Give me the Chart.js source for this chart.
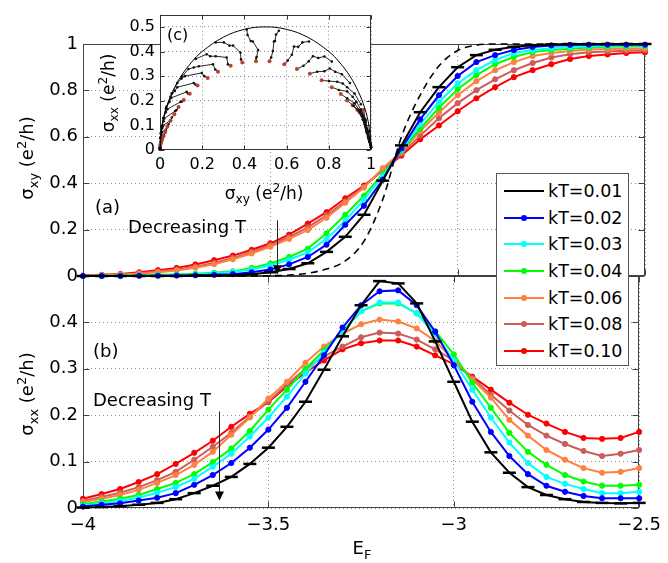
<!DOCTYPE html>
<html>
<head>
<meta charset="utf-8">
<script src="https://cdn.jsdelivr.net/npm/chart.js@4.4.1/dist/chart.umd.min.js"></script>
<style>
  html, body { margin: 0; padding: 0; background: #fff; }
  #wrap { position: relative; width: 668px; height: 563px; overflow: hidden; font-family: "DejaVu Sans", sans-serif; color: #000; }
  #wrap canvas { position: absolute; left: 0; top: 0; }
  .txt { position: absolute; white-space: nowrap; font-size: 18px; line-height: 1; }
  .rot { transform: translate(-50%, -50%) rotate(-90deg); }
  .ctr { transform: translate(-50%, -50%); }
  .mid { transform: translateY(-50%); }
  sub, sup { font-size: 0.72em; line-height: 0; }
  #legend { position: absolute; left: 496px; top: 173px; width: 133px; height: 193px; background: #fff;
            border: 1px solid #555; box-sizing: border-box; padding-top: 4px; }
  #legend .row { height: 26.6px; display: flex; align-items: center; font-size: 17.5px; }
  #legend svg { margin-left: 7px; margin-right: 4px; }
</style>
</head>
<body>
<div id="wrap">
  <canvas id="bottomChart" width="668" height="563"></canvas>
  <canvas id="topChart" width="668" height="563"></canvas>
  <canvas id="insetChart" width="668" height="563"></canvas>
  <div id="legend"></div>

  <div class="txt rot" style="left:27px; top:158px;">σ<sub>xy</sub> (e<sup>2</sup>/h)</div>
  <div class="txt rot" style="left:27px; top:394px;">σ<sub>xx</sub> (e<sup>2</sup>/h)</div>
  <div class="txt ctr" style="left:362px; top:548px;">E<sub>F</sub></div>
  <div class="txt mid" style="left:95px; top:207px;">(a)</div>
  <div class="txt mid" style="left:93px; top:351px;">(b)</div>
  <div class="txt mid" style="left:167px; top:35px; font-size:16px;">(c)</div>
  <div class="txt mid" style="left:128px; top:227px;">Decreasing T</div>
  <div class="txt mid" style="left:93px; top:400px;">Decreasing T</div>
  <div class="txt ctr" style="left:264px; top:193px; font-size:17px;">σ<sub>xy</sub> (e<sup>2</sup>/h)</div>
  <div class="txt rot" style="left:108px; top:93px; font-size:17px;">σ<sub>xx</sub> (e<sup>2</sup>/h)</div>
</div>

<script>
// Fermi energy grid
const EF = [-4.00, -3.95, -3.90, -3.85, -3.80, -3.75, -3.70, -3.65, -3.60, -3.55, -3.50,
            -3.45, -3.40, -3.35, -3.30, -3.25, -3.20, -3.15, -3.10, -3.05, -3.00,
            -2.95, -2.90, -2.85, -2.80, -2.75, -2.70, -2.65, -2.60, -2.55, -2.50];

const kTLabels = ['kT=0.01', 'kT=0.02', 'kT=0.03', 'kT=0.04', 'kT=0.06', 'kT=0.08', 'kT=0.10'];
const kTColors = ['#000000', '#0000ff', '#00ffff', '#00ff00', '#ff8040', '#cc5c5c', '#ff0000'];
const kTMarker = [false, true, true, true, true, true, true];

// sigma_xy, panel (a)
const sxy001 = [0, 0, 0, 0, 0, 0, 0.001, 0.001, 0.003, 0.008, 0.016, 0.030, 0.055, 0.104, 0.169, 0.264, 0.411, 0.563, 0.706, 0.814, 0.900, 0.952, 0.975, 0.988, 0.995, 0.998, 1, 1, 1, 1, 1];
const sxy002 = [0, 0, 0, 0.001, 0.001, 0.002, 0.003, 0.005, 0.008, 0.016, 0.028, 0.050, 0.082, 0.135, 0.221, 0.303, 0.415, 0.550, 0.675, 0.779, 0.862, 0.922, 0.952, 0.974, 0.987, 0.994, 0.996, 0.997, 0.997, 0.997, 0.997];
const sxy003 = [0, 0, 0.001, 0.002, 0.003, 0.005, 0.007, 0.011, 0.017, 0.028, 0.045, 0.070, 0.102, 0.160, 0.238, 0.329, 0.430, 0.545, 0.655, 0.750, 0.830, 0.887, 0.931, 0.961, 0.974, 0.982, 0.987, 0.990, 0.992, 0.993, 0.993];
const sxy004 = [0, 0.001, 0.002, 0.003, 0.005, 0.007, 0.010, 0.014, 0.020, 0.035, 0.054, 0.082, 0.118, 0.184, 0.264, 0.346, 0.440, 0.540, 0.635, 0.725, 0.805, 0.866, 0.913, 0.944, 0.965, 0.974, 0.980, 0.985, 0.988, 0.989, 0.990];
const sxy006 = [0.001, 0.003, 0.006, 0.010, 0.016, 0.024, 0.036, 0.051, 0.072, 0.097, 0.126, 0.160, 0.198, 0.251, 0.316, 0.381, 0.465, 0.535, 0.625, 0.705, 0.779, 0.840, 0.887, 0.922, 0.948, 0.961, 0.970, 0.976, 0.978, 0.980, 0.981];
const sxy008 = [0.001, 0.004, 0.007, 0.012, 0.019, 0.028, 0.040, 0.056, 0.078, 0.104, 0.133, 0.168, 0.210, 0.262, 0.322, 0.384, 0.458, 0.527, 0.605, 0.680, 0.745, 0.801, 0.848, 0.887, 0.918, 0.942, 0.956, 0.964, 0.968, 0.971, 0.973];
const sxy010 = [0.002, 0.005, 0.009, 0.016, 0.025, 0.035, 0.050, 0.068, 0.088, 0.113, 0.141, 0.178, 0.226, 0.275, 0.335, 0.390, 0.455, 0.519, 0.589, 0.649, 0.710, 0.766, 0.814, 0.857, 0.887, 0.913, 0.935, 0.948, 0.955, 0.961, 0.964];
// dashed zero-temperature curve
const sxyT0 = [0, 0, 0, 0, 0, 0, 0, 0, 0, 0, 0.001, 0.004, 0.012, 0.030, 0.065, 0.150, 0.330, 0.600, 0.780, 0.905, 0.972, 0.995, 1, 1, 1, 1, 1, 1, 1, 1, 1];

// sigma_xx, panel (b)
const sxx001 = [0.001, 0.002, 0.004, 0.007, 0.011, 0.019, 0.032, 0.048, 0.067, 0.095, 0.130, 0.175, 0.229, 0.298, 0.370, 0.437, 0.489, 0.484, 0.441, 0.359, 0.272, 0.186, 0.120, 0.076, 0.045, 0.028, 0.019, 0.013, 0.011, 0.010, 0.011];
const sxx002 = [0.003, 0.007, 0.010, 0.016, 0.022, 0.032, 0.050, 0.071, 0.097, 0.130, 0.169, 0.216, 0.272, 0.329, 0.389, 0.437, 0.467, 0.469, 0.437, 0.380, 0.308, 0.229, 0.164, 0.112, 0.073, 0.048, 0.035, 0.026, 0.021, 0.021, 0.021];
const sxx003 = [0.005, 0.010, 0.015, 0.022, 0.033, 0.045, 0.063, 0.089, 0.117, 0.154, 0.195, 0.240, 0.290, 0.335, 0.381, 0.424, 0.443, 0.443, 0.419, 0.374, 0.318, 0.255, 0.195, 0.141, 0.097, 0.067, 0.052, 0.041, 0.032, 0.032, 0.035];
const sxx004 = [0.008, 0.014, 0.020, 0.028, 0.041, 0.054, 0.073, 0.099, 0.128, 0.166, 0.212, 0.255, 0.300, 0.340, 0.381, 0.424, 0.441, 0.441, 0.420, 0.381, 0.331, 0.270, 0.216, 0.162, 0.121, 0.093, 0.071, 0.057, 0.048, 0.048, 0.050];
const sxx006 = [0.013, 0.020, 0.028, 0.039, 0.054, 0.071, 0.093, 0.121, 0.158, 0.195, 0.236, 0.272, 0.313, 0.348, 0.376, 0.396, 0.406, 0.402, 0.387, 0.360, 0.320, 0.277, 0.238, 0.190, 0.156, 0.125, 0.104, 0.086, 0.076, 0.078, 0.086];
const sxx008 = [0.015, 0.024, 0.033, 0.045, 0.060, 0.078, 0.104, 0.132, 0.162, 0.197, 0.229, 0.266, 0.300, 0.327, 0.348, 0.368, 0.378, 0.376, 0.363, 0.342, 0.318, 0.280, 0.244, 0.210, 0.179, 0.156, 0.138, 0.123, 0.112, 0.117, 0.125];
const sxx010 = [0.020, 0.030, 0.041, 0.056, 0.073, 0.095, 0.119, 0.145, 0.175, 0.203, 0.228, 0.262, 0.292, 0.318, 0.342, 0.355, 0.361, 0.361, 0.348, 0.329, 0.310, 0.283, 0.255, 0.227, 0.201, 0.182, 0.164, 0.151, 0.149, 0.151, 0.164];

const sxyAll = [sxy001, sxy002, sxy003, sxy004, sxy006, sxy008, sxy010];
const sxxAll = [sxx001, sxx002, sxx003, sxx004, sxx006, sxx008, sxx010];

// tick labels
const efTicks = [-4, -3.5, -3, -2.5];
const sxyTicks = [0, 0.2, 0.4, 0.6, 0.8, 1];
const sxxTicks = [0, 0.1, 0.2, 0.3, 0.4];
const insetXTicks = [0, 0.2, 0.4, 0.6, 0.8, 1];
const insetYTicks = [0, 0.1, 0.2, 0.3, 0.4, 0.5];

// outer half circle of the inset
const semiX = [0, 0.01, 0.03, 0.06, 0.1, 0.15, 0.2, 0.3, 0.4, 0.5, 0.6, 0.7, 0.8, 0.85, 0.9, 0.94, 0.97, 0.99, 1];
const semiY = [0, 0.099, 0.171, 0.237, 0.3, 0.357, 0.4, 0.458, 0.49, 0.5, 0.49, 0.458, 0.4, 0.357, 0.3, 0.237, 0.171, 0.099, 0];

Chart.defaults.font.family = '"DejaVu Sans", sans-serif';
Chart.defaults.font.size = 18;
Chart.defaults.color = '#000';

const fmt = v => String(Number(v.toFixed(2))).replace('-', '\u2212');

// axes box with inward ticks, like matlab
const framePlugin = {
  id: 'frame',
  beforeDatasetsDraw(chart, args, o) {
    const { ctx, chartArea: a, scales } = chart;
    const len = o.tick || 6;
    ctx.save();
    ctx.strokeStyle = o.color || '#444';
    ctx.lineWidth = 1;
    const L = Math.round(a.left) + 0.5, R = Math.round(a.right) - 0.5;
    const T = Math.round(a.top) + 0.5, B = Math.round(a.bottom) - 0.5;
    ctx.strokeRect(L, T, R - L, B - T);
    ctx.beginPath();
    scales.x.ticks.forEach(t => {
      const px = Math.round(scales.x.getPixelForValue(t.value)) + 0.5;
      ctx.moveTo(px, B); ctx.lineTo(px, B - len);
      ctx.moveTo(px, T); ctx.lineTo(px, T + len);
    });
    scales.y.ticks.forEach(t => {
      const py = Math.round(scales.y.getPixelForValue(t.value)) + 0.5;
      ctx.moveTo(L, py); ctx.lineTo(L + len, py);
      ctx.moveTo(R, py); ctx.lineTo(R - len, py);
    });
    ctx.stroke();
    ctx.restore();
  }
};

const arrowPlugin = {
  id: 'arrow',
  afterDatasetsDraw(chart, args, o) {
    if (!o || o.x === undefined) return;
    const { ctx, scales } = chart;
    const x = Math.round(scales.x.getPixelForValue(o.x)) + 0.5;
    const y0 = scales.y.getPixelForValue(o.y0);
    const y1 = scales.y.getPixelForValue(o.y1);
    ctx.save();
    ctx.strokeStyle = '#222';
    ctx.fillStyle = '#000';
    ctx.lineWidth = 1;
    ctx.beginPath();
    ctx.moveTo(x, y0); ctx.lineTo(x, y1 - 8);
    ctx.stroke();
    ctx.beginPath();
    ctx.moveTo(x - 4.5, y1 - 9); ctx.lineTo(x + 4.5, y1 - 9); ctx.lineTo(x, y1);
    ctx.closePath();
    ctx.fill();
    ctx.restore();
  }
};

const whitePlugin = {
  id: 'whiteArea',
  beforeDraw(chart) {
    const { ctx, chartArea: a } = chart;
    ctx.save();
    ctx.fillStyle = '#fff';
    ctx.fillRect(a.left, a.top, a.right - a.left, a.bottom - a.top);
    ctx.restore();
  }
};

function seriesSets(values) {
  return values.map((arr, j) => {
    const ds = {
      label: kTLabels[j],
      data: EF.map((x, i) => ({ x: x, y: arr[i] })),
      borderColor: kTColors[j],
      backgroundColor: kTColors[j],
      borderWidth: 2,
      pointRadius: 2.6,
      pointBorderWidth: 1,
      pointBorderColor: kTColors[j],
      tension: 0,
      clip: false
    };
    if (j === 0) {
      ds.pointStyle = 'line';
      ds.pointRadius = 6.5;
      ds.pointBorderWidth = 2.5;
    }
    return ds;
  });
}

function gridOpts() {
  return { color: 'rgba(0,0,0,0.45)', lineWidth: 1, drawTicks: false };
}

function panelOptions(cfg) {
  return {
    responsive: false,
    animation: false,
    devicePixelRatio: 1,
    layout: { autoPadding: false, padding: { left: 0, right: 23, top: cfg.top, bottom: 0 } },
    plugins: {
      legend: { display: false },
      tooltip: { enabled: false },
      frame: { tick: 6, color: '#444' },
      arrow: cfg.arrow
    },
    scales: {
      x: {
        type: 'linear', min: -4, max: -2.5,
        grid: gridOpts(),
        border: { display: false, dash: [1, 3] },
        afterBuildTicks: s => { s.ticks = efTicks.map(v => ({ value: v })); },
        afterFit: s => { s.height = cfg.xHeight; },
        ticks: { display: cfg.showX, padding: 7, maxRotation: 0, autoSkip: false, callback: v => fmt(v) }
      },
      y: {
        type: 'linear', min: 0, max: cfg.yMax,
        grid: gridOpts(),
        border: { display: false, dash: [1, 3] },
        afterBuildTicks: s => { s.ticks = cfg.yTicks.map(v => ({ value: v })); },
        afterFit: s => { s.width = 83; },
        ticks: { padding: 5, autoSkip: false, callback: v => fmt(v) }
      }
    }
  };
}

// panel (a)
const topSets = seriesSets(sxyAll);
topSets.push({
  label: 'kT=0',
  data: EF.map((x, i) => ({ x: x, y: sxyT0[i] })),
  borderColor: '#000',
  borderWidth: 1.6,
  borderDash: [7, 5],
  pointRadius: 0,
  cubicInterpolationMode: 'monotone',
  clip: false
});
new Chart(document.getElementById('topChart'), {
  type: 'line',
  data: { datasets: topSets },
  options: panelOptions({ top: 44, xHeight: 563 - 276, showX: false, yMax: 1, yTicks: sxyTicks,
                          arrow: { x: -3.482, y0: 0.24, y1: 0.008 } }),
  plugins: [framePlugin, arrowPlugin]
});

// panel (b)
new Chart(document.getElementById('bottomChart'), {
  type: 'line',
  data: { datasets: seriesSets(sxxAll) },
  options: panelOptions({ top: 276, xHeight: 563 - 508, showX: true, yMax: 0.5, yTicks: sxxTicks,
                          arrow: { x: -3.634, y0: 0.208, y1: 0.016 } }),
  plugins: [framePlugin, arrowPlugin]
});

// inset (c): one path per E_F, running from kT=0.01 to kT=0.10
const insetSets = [{
  data: semiX.map((x, i) => ({ x: x, y: semiY[i] })),
  showLine: true, borderColor: '#000', borderWidth: 1, pointRadius: 0, tension: 0.4, clip: false
}];
const dotColors = kTLabels.map((l, j) => j === kTLabels.length - 1 ? '#b8432f' : '#111');
const dotSizes = kTLabels.map((l, j) => j === kTLabels.length - 1 ? 2 : 1.3);
EF.forEach((e, i) => {
  insetSets.push({
    data: sxyAll.map((arr, j) => ({ x: arr[i], y: sxxAll[j][i] })),
    showLine: true, borderColor: '#111', borderWidth: 0.9,
    pointRadius: dotSizes, pointBorderWidth: 0, pointBackgroundColor: dotColors, clip: false
  });
});

new Chart(document.getElementById('insetChart'), {
  type: 'scatter',
  data: { datasets: insetSets },
  options: {
    responsive: false,
    animation: false,
    devicePixelRatio: 1,
    layout: { autoPadding: false, padding: { left: 120, right: 668 - 371, top: 11, bottom: 0 } },
    plugins: {
      legend: { display: false },
      tooltip: { enabled: false },
      frame: { tick: 4, color: '#333' }
    },
    scales: {
      x: {
        type: 'linear', min: 0, max: 1,
        grid: gridOpts(),
        border: { display: false, dash: [1, 3] },
        afterBuildTicks: s => { s.ticks = insetXTicks.map(v => ({ value: v })); },
        afterFit: s => { s.height = 563 - 150; },
        ticks: { font: { size: 16 }, padding: 5, maxRotation: 0, autoSkip: false, callback: v => fmt(v) }
      },
      y: {
        type: 'linear', min: 0, max: 0.55,
        grid: gridOpts(),
        border: { display: false, dash: [1, 3] },
        afterBuildTicks: s => { s.ticks = insetYTicks.map(v => ({ value: v })); },
        afterFit: s => { s.width = 40; },
        ticks: { font: { size: 16 }, padding: 5, autoSkip: false, callback: v => fmt(v) }
      }
    }
  },
  plugins: [whitePlugin, framePlugin]
});

// legend box
const legend = document.getElementById('legend');
kTLabels.forEach((lab, j) => {
  const row = document.createElement('div');
  row.className = 'row';
  const dot = kTMarker[j] ? `<circle cx="20" cy="6" r="3" fill="${kTColors[j]}"/>` : '';
  row.innerHTML = `<svg width="40" height="12"><line x1="0" y1="6" x2="40" y2="6" stroke="${kTColors[j]}" stroke-width="2"/>${dot}</svg><span>${lab}</span>`;
  legend.appendChild(row);
});
</script>
</body>
</html>
